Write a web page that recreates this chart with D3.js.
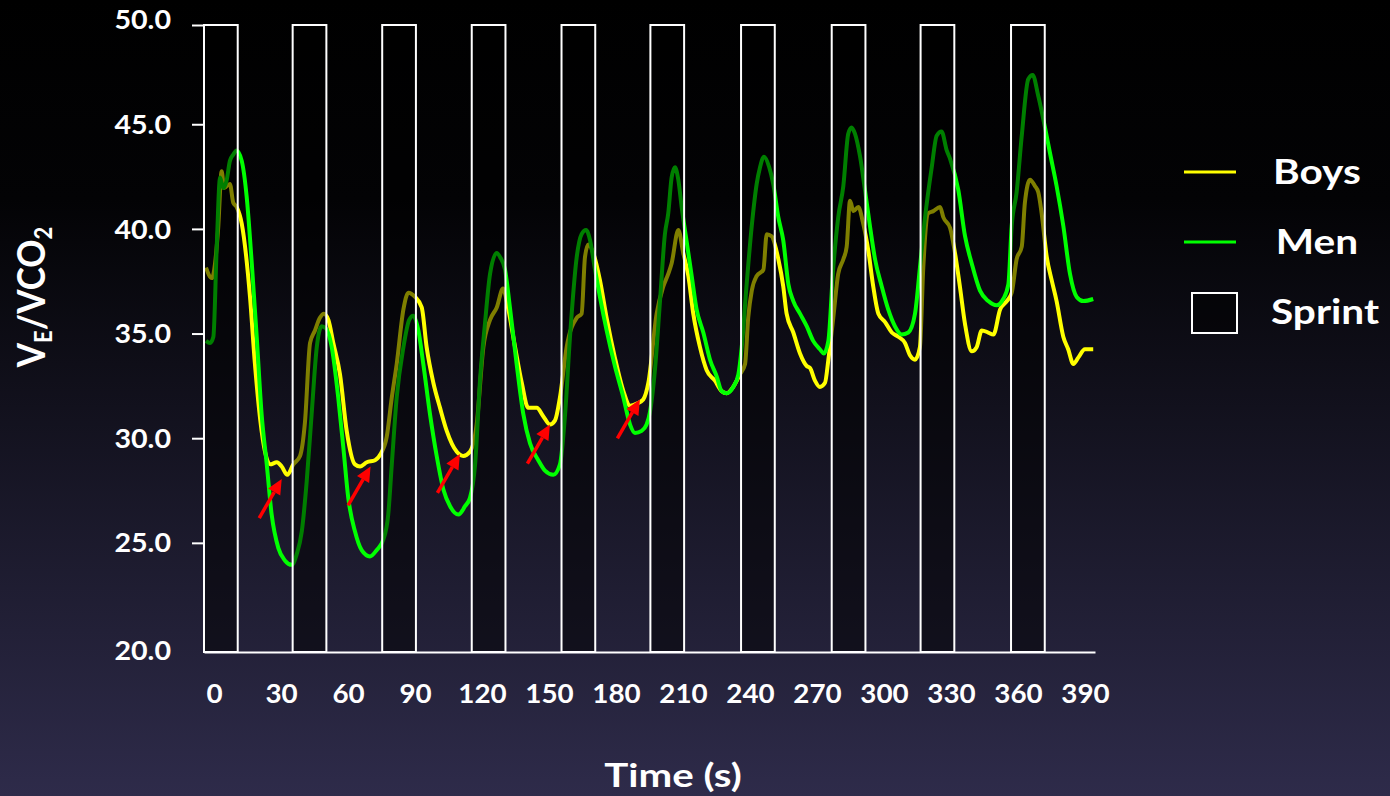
<!DOCTYPE html>
<html>
<head>
<meta charset="utf-8">
<script src="https://cdn.jsdelivr.net/npm/d3@7"></script>
<style>
  body { margin: 0; background: #000; }
  svg text { font-family: Lato, 'Open Sans', sans-serif; font-weight: bold; fill: #fff; }
</style>
</head>
<body>
<div id="chart"></div>
<script>
// time (s) , VE/VCO2
var boys = [
  [-3.6, 38.15], [-1.0, 37.65], [1.8, 39.95], [3.4, 42.75], [4.5, 41.95], [7.1, 42.15], [8.6, 41.25],
  [10.1, 41.05], [12.4, 40.25], [16.1, 36.75], [18.3, 33.55], [21.3, 30.35], [25.1, 28.75], [28.1, 28.85],
  [30.3, 28.65], [32.8, 28.25], [35.5, 28.75], [38.5, 29.15], [40.7, 30.75], [43.0, 34.55], [45.2, 35.15],
  [47.4, 35.75], [49.2, 35.95], [51.2, 35.65], [53.4, 34.55], [56.4, 33.05], [59.4, 30.35], [63.1, 28.75],
  [65.4, 28.65], [68.4, 28.85], [72.1, 28.95], [74.6, 29.25], [77.3, 30.05], [79.6, 31.95], [81.8, 33.55],
  [84.8, 36.15], [87.0, 36.95], [90.0, 36.75], [93.0, 36.25], [95.2, 34.35], [98.2, 32.65], [101.2, 31.45],
  [104.2, 30.35], [108.7, 29.35], [111.6, 29.15], [114.6, 29.35], [117.6, 30.65], [120.6, 34.35],
  [123.6, 35.65], [126.6, 36.25], [129.4, 37.15], [131.6, 36.25], [134.8, 34.35], [137.8, 32.65],
  [140.7, 31.45], [144.5, 31.45], [147.4, 31.05], [150.4, 30.65], [152.7, 30.85], [154.9, 31.95],
  [157.9, 34.35], [162.4, 35.75], [164.6, 35.95], [166.1, 38.65], [167.6, 39.25], [169.8, 38.85],
  [172.8, 37.55], [175.8, 35.75], [179.5, 33.85], [183.3, 32.25], [186.3, 31.55], [189.3, 31.65],
  [192.2, 31.85], [194.5, 32.65], [198.2, 35.95], [201.2, 37.25], [203.4, 37.85], [204.9, 38.35],
  [207.9, 39.95], [210.1, 38.85], [212.4, 37.75], [214.6, 35.95], [217.6, 34.35], [220.6, 33.25],
  [224.3, 32.75], [227.3, 32.25], [229.6, 32.15], [232.5, 32.45], [235.5, 33.05], [237.8, 33.55],
  [239.2, 35.75], [240.8, 37.05], [243.0, 37.75], [246.0, 38.05], [247.5, 39.75], [249.7, 39.65],
  [252.7, 38.55], [254.9, 37.25], [256.4, 35.95], [259.4, 35.05], [262.4, 34.05], [265.4, 33.45],
  [266.9, 33.35], [269.1, 32.75], [271.3, 32.45], [273.6, 32.65], [275.1, 33.75], [277.3, 35.75],
  [279.5, 37.85], [281.8, 38.55], [283.3, 39.15], [284.8, 41.35], [286.3, 40.85], [288.5, 41.05],
  [290.7, 40.25], [293.0, 38.95], [295.2, 37.25], [297.5, 35.95], [300.5, 35.55], [303.5, 35.05],
  [306.4, 34.85], [309.4, 34.55], [311.7, 33.95], [313.9, 33.75], [316.1, 34.35], [317.6, 38.15],
  [319.8, 40.75], [322.1, 40.85], [325.1, 41.05], [326.6, 40.55], [329.6, 40.05], [331.8, 38.85],
  [334.0, 37.25], [336.3, 35.45], [339.3, 34.15], [341.5, 34.35], [343.8, 35.15], [346.7, 35.05],
  [349.0, 34.95], [352.0, 36.15], [355.0, 36.55], [357.2, 36.95], [359.4, 38.55], [361.7, 39.15],
  [363.1, 41.25], [365.4, 42.35], [367.6, 42.05], [369.1, 41.75], [370.6, 40.75], [372.9, 38.65],
  [375.1, 37.55], [377.3, 36.55], [380.3, 34.85], [382.5, 34.25], [384.8, 33.55], [387.0, 33.85],
  [390.0, 34.25], [393.7, 34.25]
];

var men = [
  [-3.6, 34.65], [-1.8, 34.55], [-0.3, 34.85], [1.2, 39.15], [2.7, 42.45], [4.1, 41.95], [5.7, 42.35],
  [7.1, 43.25], [8.6, 43.55], [10.1, 43.75], [12.4, 43.25], [14.6, 41.55], [16.9, 38.35], [19.1, 34.85],
  [21.3, 31.15], [23.6, 28.75], [25.8, 26.35], [28.8, 24.75], [31.8, 24.15], [34.8, 23.95], [37.0, 24.45],
  [39.3, 25.55], [41.5, 27.95], [43.7, 31.15], [46.0, 34.35], [48.2, 35.35], [50.1, 35.25], [52.7, 34.35],
  [55.6, 31.95], [57.9, 29.55], [60.1, 27.15], [63.1, 25.55], [66.1, 24.65], [69.8, 24.35], [72.8, 24.65],
  [75.8, 25.15], [78.0, 26.35], [79.6, 28.75], [81.8, 31.95], [84.8, 34.35], [87.4, 35.65], [89.2, 35.85],
  [91.5, 35.15], [93.7, 33.55], [96.7, 31.15], [99.7, 29.15], [102.7, 27.55], [105.7, 26.75],
  [109.4, 26.35], [112.4, 26.75], [114.6, 27.15], [116.9, 28.75], [119.1, 32.75], [121.3, 35.45],
  [123.6, 37.85], [126.6, 38.85], [128.1, 38.65], [130.3, 38.05], [132.5, 36.25], [135.5, 33.55],
  [138.5, 31.15], [141.5, 29.75], [145.2, 28.95], [148.2, 28.45], [151.9, 28.25], [154.9, 28.75],
  [157.2, 31.15], [159.4, 34.85], [162.4, 38.65], [164.6, 39.75], [166.6, 39.95], [168.4, 39.45],
  [170.6, 38.05], [172.8, 36.75], [175.8, 35.15], [179.5, 33.45], [183.3, 31.95], [186.3, 30.65],
  [188.5, 30.25], [191.5, 30.35], [193.7, 30.65], [195.2, 31.25], [197.5, 33.35], [199.7, 36.55],
  [201.9, 39.75], [203.4, 40.75], [204.9, 42.45], [206.4, 42.95], [207.9, 42.35], [209.4, 41.05],
  [211.7, 39.35], [213.9, 37.75], [216.1, 36.15], [219.1, 35.05], [222.1, 33.75], [225.1, 32.95],
  [227.3, 32.25], [229.6, 32.15], [232.5, 32.45], [234.8, 33.05], [236.3, 34.35], [238.5, 37.35],
  [240.8, 40.15], [243.0, 42.15], [244.5, 42.95], [246.3, 43.45], [248.6, 42.95], [250.4, 42.15],
  [252.7, 40.55], [254.9, 39.45], [257.2, 37.35], [259.4, 36.55], [262.4, 35.95], [265.4, 35.35],
  [268.3, 34.65], [271.3, 34.25], [273.1, 34.05], [275.1, 34.65], [277.3, 38.15], [279.5, 40.55],
  [281.8, 42.05], [284.0, 44.55], [285.5, 44.85], [287.0, 44.55], [289.3, 43.45], [291.5, 41.85],
  [293.7, 40.15], [296.0, 38.55], [299.0, 37.25], [301.9, 36.15], [304.9, 35.35], [307.9, 34.95],
  [310.9, 35.05], [313.9, 35.95], [316.1, 38.15], [318.4, 40.55], [321.4, 42.95], [323.6, 44.45],
  [325.8, 44.65], [328.1, 43.75], [329.6, 43.35], [333.3, 41.85], [336.3, 39.65], [339.3, 38.35],
  [343.0, 37.05], [346.7, 36.55], [350.5, 36.35], [353.4, 36.65], [355.7, 37.35], [357.2, 40.15],
  [359.4, 41.75], [361.7, 44.45], [364.6, 47.15], [366.6, 47.35], [369.1, 46.35], [372.1, 44.85],
  [374.3, 43.65], [377.3, 42.05], [380.3, 40.15], [383.3, 37.85], [386.3, 36.75], [389.3, 36.55],
  [393.7, 36.65]
];

var sprintStart = [-4.5, 35.2, 75.3, 115.4, 155.6, 195.4, 236.0, 276.6, 316.4, 356.9];
var sprintLength = 15.1;

var arrowTime = [30.3, 70.1, 110.1, 150.4, 190.7];
var arrowValue = [28.05, 28.65, 29.25, 30.65, 31.85];

var xTicks = [0, 30, 60, 90, 120, 150, 180, 210, 240, 270, 300, 330, 360, 390];
var yTicks = [20, 25, 30, 35, 40, 45, 50];

var legendNames = ['Boys', 'Men', 'Sprint'];

var sprintChart = {

    config: {
        w: 1390,
        h: 796,
        left: 204,
        right: 1095,
        top: 25,      // top edge of the sprint boxes / y axis line
        bottom: 652,  // x axis line
        y20: 647.5,
        y50: 19.6,

        boyscolor: '#ffff00',
        mencolor: '#00ff00',
        arrowcolor: '#ff0000',
        linewidth: 4,
    },

    run: function() {
        var c = sprintChart.config;

        var svg = d3.select('#chart').append('svg')
            .attr('width', c.w)
            .attr('height', c.h);

        // background gradient, black on top to dark navy at the bottom
        var grad = svg.append('defs').append('linearGradient')
            .attr('id', 'bg')
            .attr('x1', 0).attr('y1', 0).attr('x2', 0).attr('y2', 1);
        grad.append('stop').attr('offset', '0%').attr('stop-color', '#000000');
        grad.append('stop').attr('offset', '25%').attr('stop-color', '#030305');
        grad.append('stop').attr('offset', '100%').attr('stop-color', '#2e2b4a');

        svg.append('rect')
            .attr('width', c.w)
            .attr('height', c.h)
            .attr('fill', 'url(#bg)');

        var x = d3.scaleLinear().domain([-4.5, 394.5]).range([c.left, c.right]);
        var y = d3.scaleLinear().domain([20, 50]).range([c.y20, c.y50]);

        var line = d3.line()
            .x(function(d) { return x(d[0]); })
            .y(function(d) { return y(d[1]); })
            .curve(d3.curveMonotoneX);

        svg.append('path')
            .datum(boys)
            .attr('d', line)
            .attr('fill', 'none')
            .attr('stroke', c.boyscolor)
            .attr('stroke-width', c.linewidth)
            .attr('stroke-linejoin', 'round');

        svg.append('path')
            .datum(men)
            .attr('d', line)
            .attr('fill', 'none')
            .attr('stroke', c.mencolor)
            .attr('stroke-width', c.linewidth)
            .attr('stroke-linejoin', 'round');

        // sprint boxes sit on top of the lines and darken them
        svg.append('g').selectAll('rect')
            .data(sprintStart)
            .enter().append('rect')
            .attr('x', function(d) { return x(d); })
            .attr('width', function(d) { return x(d + sprintLength) - x(d); })
            .attr('y', c.top)
            .attr('height', c.bottom - c.top)
            .attr('fill', '#000')
            .attr('fill-opacity', 0.5)
            .attr('stroke', '#fff')
            .attr('stroke-width', 2);

        // y axis
        var yAxis = svg.append('g')
            .attr('transform', 'translate(' + c.left + ',0)')
            .call(d3.axisLeft(y).tickValues(yTicks).tickFormat(d3.format('.1f'))
                .tickSize(12).tickPadding(21));
        yAxis.select('.domain').remove();
        yAxis.append('line')
            .attr('y1', c.top).attr('y2', c.bottom)
            .attr('stroke', '#fff').attr('stroke-width', 2);
        yAxis.selectAll('.tick line')
            .attr('stroke', '#fff').attr('stroke-width', 2)
            .attr('opacity', function(d) { return d === 20 ? 0 : 1; })
            .attr('y1', function(d) { return d === 50 ? c.top - y(50) : 0; })
            .attr('y2', function(d) { return d === 50 ? c.top - y(50) : 0; });
        yAxis.selectAll('text')
            .attr('fill', '#fff')
            .attr('x', 0)
            .attr('dy', function(d) { return d === 20 ? '0.45em' : '0.35em'; })
            .attr('transform', 'translate(-33,0) scale(1.1,1)')
            .style('font-size', '26px');

        // x axis
        var xAxis = svg.append('g')
            .attr('transform', 'translate(0,' + c.bottom + ')')
            .call(d3.axisBottom(x).tickValues(xTicks).tickSize(0));
        xAxis.select('.domain').attr('stroke', '#fff').attr('stroke-width', 2);
        xAxis.selectAll('text')
            .attr('fill', '#fff')
            .attr('y', 0)
            .attr('dy', 0)
            .attr('transform', 'translate(0,51) scale(1.07,1)')
            .style('font-size', '26px');

        // axis titles
        svg.append('text')
            .attr('transform', 'translate(673,787) scale(1.22,1)')
            .attr('text-anchor', 'middle')
            .style('font-size', '33px')
            .text('Time (s)');

        var yt = svg.append('text')
            .attr('transform', 'translate(45,297) scale(1.1,1) rotate(-90)')
            .attr('text-anchor', 'middle')
            .style('font-size', '35px');
        yt.append('tspan').text('V');
        yt.append('tspan').text('E').attr('dy', 6).style('font-size', '22px');
        yt.append('tspan').text('/VCO').attr('dy', -6);
        yt.append('tspan').text('2').attr('dy', 6).style('font-size', '22px');

        // red arrows pointing at the boys' end-of-recovery values
        var arrows = svg.append('g');
        arrowTime.forEach(function(t, i) {
            var hx = x(t), hy = y(arrowValue[i]);
            var tx = hx - 22.5, ty = hy + 39;
            var len = Math.sqrt((hx - tx) * (hx - tx) + (hy - ty) * (hy - ty));
            var ux = (hx - tx) / len, uy = (hy - ty) / len;
            var bx = hx - ux * 15, by = hy - uy * 15;
            arrows.append('line')
                .attr('x1', tx).attr('y1', ty)
                .attr('x2', bx).attr('y2', by)
                .attr('stroke', c.arrowcolor)
                .attr('stroke-width', 3.5);
            arrows.append('path')
                .attr('d', 'M' + hx + ',' + hy +
                    'L' + (bx - uy * 7) + ',' + (by + ux * 7) +
                    'L' + (bx + uy * 7) + ',' + (by - ux * 7) + 'Z')
                .attr('fill', c.arrowcolor);
        });

        // legend
        var lg = svg.append('g');
        legendNames.forEach(function(name, i) {
            var ly = 172 + i * 70;
            if (i < 2) {
                lg.append('line')
                    .attr('x1', 1184).attr('x2', 1236)
                    .attr('y1', ly).attr('y2', ly)
                    .attr('stroke', i === 0 ? c.boyscolor : c.mencolor)
                    .attr('stroke-width', 3);
            } else {
                lg.append('rect')
                    .attr('x', 1192).attr('y', ly - 19)
                    .attr('width', 45).attr('height', 40)
                    .attr('fill', '#000')
                    .attr('fill-opacity', 0.5)
                    .attr('stroke', '#fff')
                    .attr('stroke-width', 2);
            }
            lg.append('text')
                .attr('transform', 'translate(' + (i === 2 ? 1325 : 1317) + ',' + (ly + 12) + ') scale(1.16,1)')
                .attr('text-anchor', 'middle')
                .style('font-size', '35px')
                .text(name);
        });
    },
};

sprintChart.run();
</script>
</body>
</html>
